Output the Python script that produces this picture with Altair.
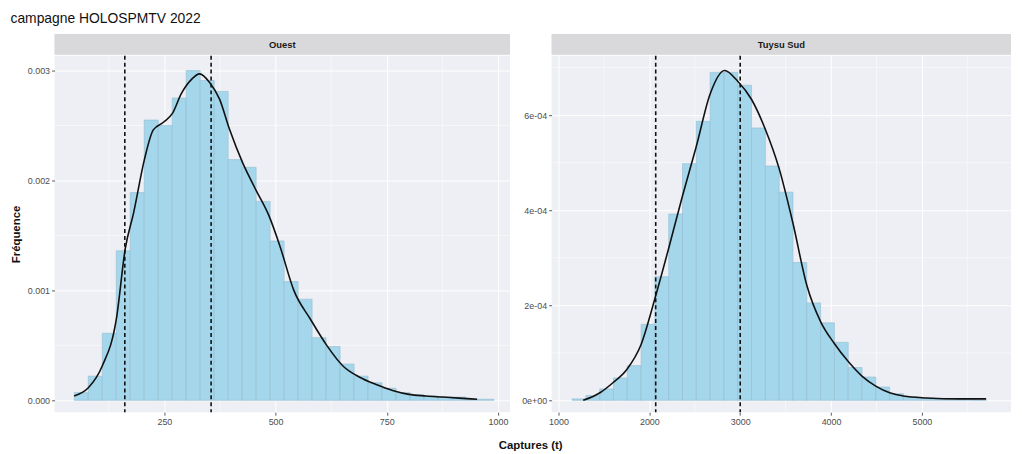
import altair as alt
import pandas as pd

# ---------------- data ----------------
title_text = "campagne HOLOSPMTV 2022"
panel_names = ["Ouest", "Tuysu Sud"]

# Ouest histogram (30 bins)
ouest_bin_start = 47.4
ouest_bin_width = 31.45
ouest_density = [0.00007, 0.00022, 0.00061, 0.00136, 0.00189, 0.00255, 0.00250,
                 0.00275, 0.00300, 0.00291, 0.00281, 0.00219, 0.00212, 0.00181,
                 0.00145, 0.00108, 0.00092, 0.00057, 0.00049, 0.00033, 0.00022,
                 0.00016, 0.00011, 0.00007, 0.00005, 0.00004, 0.00003, 0.00003,
                 0.00001, 0.00001]
ouest_curve_x = [47, 79, 110, 142, 162, 181, 205, 225, 248, 268, 288, 311, 329,
                 352, 374, 396, 426, 455, 485, 510, 541, 578, 615, 652, 689, 726,
                 763, 800, 838, 875, 912, 953]
ouest_curve_y = [0.00004, 0.000114, 0.00031, 0.00074, 0.00138, 0.00171, 0.00219,
                 0.00246, 0.00253, 0.00261, 0.00279, 0.00292, 0.00297, 0.00289,
                 0.00274, 0.00247, 0.00216, 0.00192, 0.00168, 0.00140, 0.00100,
                 0.00074, 0.00050, 0.00031, 0.00021, 0.000144, 0.00009, 0.000054,
                 0.00004, 0.00003, 0.00002, 0.00001]
ouest_vlines = [161, 355]

# Tuysu Sud histogram (30 bins)
sud_bin_start = 1149
sud_bin_width = 152
sud_density = [0.03e-4, 0.10e-4, 0.24e-4, 0.47e-4, 0.73e-4, 1.60e-4, 2.60e-4,
               3.92e-4, 4.98e-4, 5.87e-4, 6.90e-4, 6.90e-4, 6.63e-4, 5.73e-4,
               4.93e-4, 4.38e-4, 2.90e-4, 2.05e-4, 1.63e-4, 1.22e-4, 0.69e-4,
               0.49e-4, 0.28e-4, 0.14e-4, 0.07e-4, 0.04e-4, 0.03e-4, 0.02e-4,
               0.02e-4, 0.01e-4]
sud_curve_x = [1272, 1457, 1599, 1752, 1908, 2061, 2210, 2363, 2515, 2668, 2828,
               2970, 3122, 3275, 3428, 3580, 3733, 3886, 4034, 4187, 4340, 4492,
               4645, 4798, 5052, 5415, 5707]
sud_curve_y = [0.0, 0.16e-4, 0.37e-4, 0.65e-4, 1.17e-4, 2.14e-4, 3.18e-4, 4.29e-4,
               5.33e-4, 6.44e-4, 6.94e-4, 6.72e-4, 6.34e-4, 5.71e-4, 4.88e-4,
               3.73e-4, 2.42e-4, 1.65e-4, 1.20e-4, 0.82e-4, 0.51e-4, 0.30e-4,
               0.16e-4, 0.09e-4, 0.05e-4, 0.03e-4, 0.03e-4]
sud_vlines = [2070, 3000]

ouest_x_ticks = [250, 500, 750, 1000]
ouest_x_minor = [125, 375, 625, 875]
ouest_y_ticks = [0, 0.001, 0.002, 0.003]
ouest_y_minor = [0.0005, 0.0015, 0.0025]
sud_x_ticks = [1000, 2000, 3000, 4000, 5000]
sud_x_minor = [1500, 2500, 3500, 4500, 5500]
sud_y_ticks = [0, 0.0002, 0.0004, 0.0006]
sud_y_minor = [0.0001, 0.0003, 0.0005, 0.0007]

# ---------------- style ----------------
FONT = "Liberation Sans"
PANEL_BG = "#EDEFF4"
STRIP_BG = "#D9D9DB"
BAR_FILL = "#A4D7EC"
BAR_STROKE = "#94BCD0"


def panel(bin_start, bin_width, dens, cx, cy, vlines, xdom, ydom,
          xt, xm, yt, ym, width, height, ylabel_expr, ytitle):
    bars = pd.DataFrame({
        "x0": [bin_start + i * bin_width for i in range(len(dens))],
        "x1": [bin_start + (i + 1) * bin_width for i in range(len(dens))],
        "d": dens,
        "base": [0.0] * len(dens),
    })
    curve = pd.DataFrame({"x": cx, "y": cy})
    vl = pd.DataFrame({"x": vlines})
    xminor = pd.DataFrame({"x": xm})
    yminor = pd.DataFrame({"y": ym})

    xscale = alt.Scale(domain=xdom, nice=False, zero=False)
    yscale = alt.Scale(domain=ydom, nice=False, zero=False)
    xaxis = alt.Axis(values=xt, title=None, format="d", grid=True)
    yaxis_kw = dict(values=yt, grid=True)
    if ylabel_expr:
        yaxis_kw["labelExpr"] = ylabel_expr
    else:
        yaxis_kw["format"] = ".3f"
    if ytitle:
        yaxis_kw["title"] = ytitle
    else:
        yaxis_kw["title"] = None
    yaxis = alt.Axis(**yaxis_kw)

    gx = alt.Chart(xminor).mark_rule(color="white", strokeWidth=0.5).encode(
        x=alt.X("x:Q", scale=xscale, axis=xaxis))
    gy = alt.Chart(yminor).mark_rule(color="white", strokeWidth=0.5).encode(
        y=alt.Y("y:Q", scale=yscale, axis=yaxis))
    hist = alt.Chart(bars).mark_rect(fill=BAR_FILL, stroke=BAR_STROKE,
                                     strokeWidth=0.6).encode(
        x=alt.X("x0:Q", scale=xscale, axis=xaxis), x2="x1:Q",
        y=alt.Y("d:Q", scale=yscale, axis=yaxis), y2="base:Q")
    line = alt.Chart(curve).mark_line(color="#111111", strokeWidth=1.6,
                                      interpolate="monotone").encode(
        x=alt.X("x:Q", scale=xscale, axis=xaxis),
        y=alt.Y("y:Q", scale=yscale, axis=yaxis))
    dash = alt.Chart(vl).mark_rule(color="#111111", strokeWidth=1.6,
                                   strokeDash=[4, 3]).encode(
        x=alt.X("x:Q", scale=xscale, axis=xaxis))
    return alt.layer(gx, gy, hist, line, dash).properties(width=width, height=height)


def strip(name, width):
    df = pd.DataFrame({"label": [name]})
    box = alt.Chart(df).mark_rect(fill=STRIP_BG).encode(
        x=alt.value(0), x2=alt.value(width), y=alt.value(0), y2=alt.value(21))
    txt = alt.Chart(df).mark_text(font=FONT, fontSize=9.5, fontWeight="bold",
                                  color="#1A1A1A").encode(
        text="label:N", x=alt.value(width / 2), y=alt.value(11))
    return alt.layer(box, txt).properties(width=width, height=21)


W_L, W_R, H = 460, 464, 360

left = alt.vconcat(
    strip(panel_names[0], W_L),
    panel(ouest_bin_start, ouest_bin_width, ouest_density, ouest_curve_x,
          ouest_curve_y, ouest_vlines, [3, 1027], [-0.000108, 0.003135],
          ouest_x_ticks, ouest_x_minor, ouest_y_ticks, ouest_y_minor,
          W_L, H, None, "Fréquence"),
    spacing=0)

sud_expr = ("datum.value < 0.00001 ? '0e+00' : datum.value < 0.0003 ? '2e-04' : "
            "datum.value < 0.0005 ? '4e-04' : '6e-04'")
right = alt.vconcat(
    strip(panel_names[1], W_R),
    panel(sud_bin_start, sud_bin_width, sud_density, sud_curve_x, sud_curve_y,
          sud_vlines, [924, 5981], [-0.000025, 0.000725],
          sud_x_ticks, sud_x_minor, sud_y_ticks, sud_y_minor,
          W_R, H, sud_expr, None),
    spacing=0)

inner = alt.hconcat(left, right, spacing=10).properties(
    title=alt.TitleParams("Captures (t)", orient="bottom", anchor="middle",
                          fontSize=11.5, fontWeight="bold", font=FONT,
                          color="#111111", dx=20, offset=14))

chart = alt.vconcat(inner).properties(
    title=alt.TitleParams(title_text, anchor="start", fontSize=14,
                          fontWeight="normal", font=FONT, color="#111111",
                          offset=8),
    padding={"left": 2, "top": 2, "right": 2, "bottom": 0},
    background="white",
).configure_view(fill=PANEL_BG, stroke=None).configure_axis(
    labelFont=FONT, labelFontSize=9, labelColor="#4D4D4D", titleFont=FONT,
    titleFontSize=11.5, titleFontWeight="bold", titleColor="#111111",
    tickColor="#333333", tickSize=3, tickWidth=0.8, labelPadding=2,
    domain=False, gridColor="white", gridWidth=1, titlePadding=6,
).configure_concat(spacing=0)

chart.save("out.html", embed_options={"renderer": "svg", "actions": False})
